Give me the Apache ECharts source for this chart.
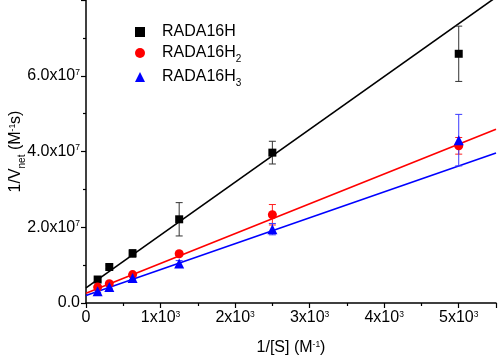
<!DOCTYPE html>
<html><head><meta charset="utf-8">
<script src="https://cdn.jsdelivr.net/npm/echarts@6/dist/echarts.min.js"></script>
<style>html,body{margin:0;padding:0;background:#fff}#c{width:498px;height:360px}</style>
</head><body><div id="c"></div>
<script>
// Data
const xVals = [156.25, 312.5, 625, 1250, 2500, 5000];
const seriesNames = ['RADA16H', 'RADA16H2', 'RADA16H3'];
const yH1 = [0.62e7, 0.95e7, 1.31e7, 2.21e7, 3.97e7, 6.58e7];
const yH2 = [0.42e7, 0.51e7, 0.75e7, 1.30e7, 2.33e7, 4.15e7];
const yH3 = [0.31e7, 0.42e7, 0.66e7, 1.04e7, 1.95e7, 4.30e7];
const errH1 = [0.05e7, 0.05e7, 0.10e7, 0.44e7, 0.30e7, 0.73e7];
const errH2 = [0.03e7, 0.03e7, 0.05e7, 0.05e7, 0.27e7, 0.22e7];
const errH3 = [0.03e7, 0.03e7, 0.05e7, 0.08e7, 0.15e7, 0.68e7];
// Linear fit parameters [intercept, slope]
const fitH1 = [0.40e7, 1.395e4];
const fitH2 = [0.26e7, 7.87e3];
const fitH3 = [0.20e7, 6.84e3];
const xTickLabels = ['0', '1x10{sup|3}', '2x10{sup|3}', '3x10{sup|3}', '4x10{sup|3}', '5x10{sup|3}'];
const yTickLabels = ['0.0', '2.0x10{sup|7}', '4.0x10{sup|7}', '6.0x10{sup|7}'];
const xRange = [0, 5500];
const yRange = [0, 8e7];

const colors = ['#000000', '#ff0000', '#0000ff'];
const errColors = ['#333333', '#ff2020', '#3a3aff'];
const symbols = ['rect', 'circle', 'triangle'];
const symSizes = [8, 9, 10];
const ys = [yH1, yH2, yH3];
const errs = [errH1, errH2, errH3];
const fits = [fitH1, fitH2, fitH3];

const FONT = 'Liberation Sans, Arial, sans-serif';
const supStyle = {fontSize: 8.5, lineHeight: 8, verticalAlign: 'top', fontFamily: FONT, color: '#000'};
const subStyle = {fontSize: 10, lineHeight: 10, padding: [9, 0, 0, 0], verticalAlign: 'top', fontFamily: FONT, color: '#000'};

const series = [];
// fit lines
fits.forEach((f, i) => {
  series.push({
    type: 'line', name: 'fit' + i, showSymbol: false, symbol: 'none', clip: true,
    data: xRange.map(x => [x, f[0] + f[1] * x]),
    lineStyle: {color: colors[i], width: 1.6}, z: 2, silent: true
  });
});
// error bars
errs.forEach((e, i) => {
  series.push({
    type: 'custom', name: 'err' + i, z: 3, silent: true,
    data: xVals.map((x, k) => [x, ys[i][k], e[k]]),
    encode: {x: 0, y: 1},
    renderItem: function (params, api) {
      const x = api.value(0), y = api.value(1), d = api.value(2);
      const t = api.coord([x, y + d]), b = api.coord([x, y - d]);
      const hw = 3.5, st = {stroke: errColors[i], lineWidth: 1};
      return {type: 'group', children: [
        {type: 'line', shape: {x1: t[0], y1: t[1], x2: b[0], y2: b[1]}, style: st},
        {type: 'line', shape: {x1: t[0] - hw, y1: t[1], x2: t[0] + hw, y2: t[1]}, style: st},
        {type: 'line', shape: {x1: b[0] - hw, y1: b[1], x2: b[0] + hw, y2: b[1]}, style: st}
      ]};
    }
  });
});
// scatter points
seriesNames.forEach((n, i) => {
  series.push({
    type: 'scatter', name: n, symbol: symbols[i], symbolSize: symSizes[i], z: 5,
    data: xVals.map((x, k) => [x, ys[i][k]]),
    itemStyle: {color: colors[i], opacity: 1}
  });
});

const chart = echarts.init(document.getElementById('c'), null, {renderer: 'canvas'});
chart.setOption({
  animation: false,
  backgroundColor: '#fff',
  textStyle: {fontFamily: FONT},
  grid: {left: 86, right: 2, top: 0, bottom: 57, containLabel: false, outerBoundsMode: 'none'},
  legend: {
    data: seriesNames, orient: 'vertical', left: 130, top: 19,
    itemWidth: 10, itemHeight: 10, itemGap: 5,
    formatter: n => n.replace(/H(\d)$/, 'H{sub|$1}'),
    textStyle: {
      fontSize: 16, color: '#000', fontFamily: FONT, padding: [0, 0, 0, 12], lineHeight: 16,
      rich: {sub: subStyle}
    }
  },
  xAxis: {
    type: 'value', min: xRange[0], max: xRange[1], interval: 1000,
    name: '1/[S] (M{sup|-1})', nameLocation: 'middle', nameGap: 37, nameMoveOverlap: false,
    nameTextStyle: {fontSize: 16, color: '#000', fontFamily: FONT, lineHeight: 16,
      rich: {sup: supStyle}},
    axisLine: {show: true, onZero: false, lineStyle: {color: '#000', width: 1.5}},
    axisTick: {show: true, inside: false, length: 5, lineStyle: {color: '#000', width: 1.2}},
    minorTick: {show: true, splitNumber: 2, length: 3, lineStyle: {color: '#000', width: 1.2}},
    splitLine: {show: false},
    axisLabel: {
      fontSize: 16, color: '#000', margin: 7, lineHeight: 16, showMaxLabel: false,
      formatter: v => (v % 1000 === 0 && v / 1000 < xTickLabels.length) ? xTickLabels[v / 1000] : '',
      rich: {sup: supStyle}
    }
  },
  yAxis: {
    type: 'value', min: yRange[0], max: yRange[1], interval: 2e7,
    name: '1/V{sub|net} (M{sup|-1}s)', nameLocation: 'middle', nameGap: 62, nameRotate: 90,
    nameMoveOverlap: false,
    nameTextStyle: {fontSize: 16, color: '#000', fontFamily: FONT, lineHeight: 16,
      rich: {sup: supStyle, sub: subStyle}},
    axisLine: {show: true, onZero: false, lineStyle: {color: '#000', width: 1.5}},
    axisTick: {show: true, inside: false, length: 5, lineStyle: {color: '#000', width: 1.2}},
    minorTick: {show: true, splitNumber: 2, length: 3, lineStyle: {color: '#000', width: 1.2}},
    splitLine: {show: false},
    axisLabel: {
      fontSize: 16, color: '#000', margin: 6, lineHeight: 16, showMaxLabel: false,
      formatter: v => (v % 2e7 === 0 && v / 2e7 < yTickLabels.length) ? yTickLabels[v / 2e7] : '',
      rich: {sup: supStyle}
    }
  },
  series: series
});
</script>
</body></html>
